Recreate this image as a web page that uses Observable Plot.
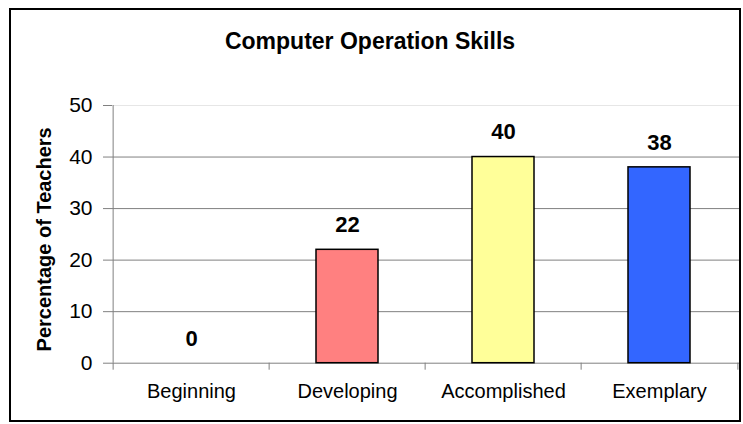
<!DOCTYPE html>
<html>
<head>
<meta charset="utf-8">
<script src="https://cdn.jsdelivr.net/npm/d3@7"></script>
<script src="https://cdn.jsdelivr.net/npm/@observablehq/plot@0.6"></script>
<style>
  html, body { margin: 0; padding: 0; background: #fff; }
  #wrap { position: relative; width: 743px; height: 424px; overflow: hidden; }
  #border { position: absolute; left: 9px; top: 8px; width: 732px; height: 414px; box-sizing: border-box; border: 2px solid #000; pointer-events: none; }
  #chart { position: absolute; left: 0; top: 0; }
</style>
</head>
<body>
<div id="wrap"><div id="border"></div><div id="chart"></div></div>
<script>
const title = "Computer Operation Skills";
const yLabel = "Percentage of Teachers";
const categories = ["Beginning", "Developing", "Accomplished", "Exemplary"];
const values = [0, 22, 40, 38];
const barColors = ["#9999FF", "#FF8080", "#FFFF99", "#3366FF"];
const yTicks = [0, 10, 20, 30, 40, 50];

const data = categories.map((c, i) => ({category: c, value: values[i], color: barColors[i]}));

const W = 743, H = 424, mL = 112, mR = 4, mT = 105, mB = 61.3;
const step = (W - mL - mR) / categories.length;
const font = "'Liberation Sans', Arial, Helvetica, sans-serif";
const gridColor = "#808080";

const chart = Plot.plot({
  width: W, height: H,
  marginLeft: mL, marginRight: mR, marginTop: mT, marginBottom: mB,
  style: {fontFamily: font, background: "transparent", overflow: "visible", color: "black"},
  x: {domain: categories, paddingInner: 0.6, paddingOuter: 0.3, axis: null},
  y: {domain: [0, 50], axis: null},
  marks: [
    Plot.ruleY([50], {stroke: "#e6e6e6"}),
    Plot.ruleY(yTicks.filter(d => d > 0 && d < 50), {stroke: gridColor}),
    Plot.ruleY([0], {stroke: gridColor}),
    Plot.ruleX([categories[0]], {x: d => d, y1: 0, y2: 50, dx: -step / 2, stroke: gridColor}),
    Plot.ruleX(categories, {x: d => d, y1: 0, y2: 0, insetBottom: -7, dx: -step / 2, stroke: gridColor}),
    Plot.ruleX([categories[categories.length - 1]], {x: d => d, y1: 0, y2: 0, insetBottom: -7, dx: step / 2, stroke: gridColor}),
    Plot.barY(data.filter(d => d.value > 0), {x: "category", y: "value", fill: "color", stroke: "black", strokeWidth: 1.5}),
    Plot.text(data, {x: "category", y: "value", text: d => String(d.value), dy: -17.7, lineAnchor: "bottom", fontSize: 22, fontWeight: "bold", fill: "black"}),
    Plot.axisY({ticks: yTicks, tickSize: 9, tickPadding: 11, fontSize: 21, stroke: gridColor, fill: "black", label: null}),
    Plot.axisX({tickSize: 0, tickPadding: 20.5, fontSize: 20, fill: "black", label: null}),
    Plot.text([yLabel], {frameAnchor: "left", dx: -67.5, dy: 5, rotate: -90, textAnchor: "middle", lineAnchor: "middle", fontSize: 20, fontWeight: "bold", fill: "black"}),
    Plot.text([title], {frameAnchor: "top", dx: -56, dy: 48 - mT, lineAnchor: "bottom", fontSize: 23, fontWeight: "bold", fill: "black"})
  ]
});
document.getElementById("chart").appendChild(chart);
</script>
</body>
</html>
